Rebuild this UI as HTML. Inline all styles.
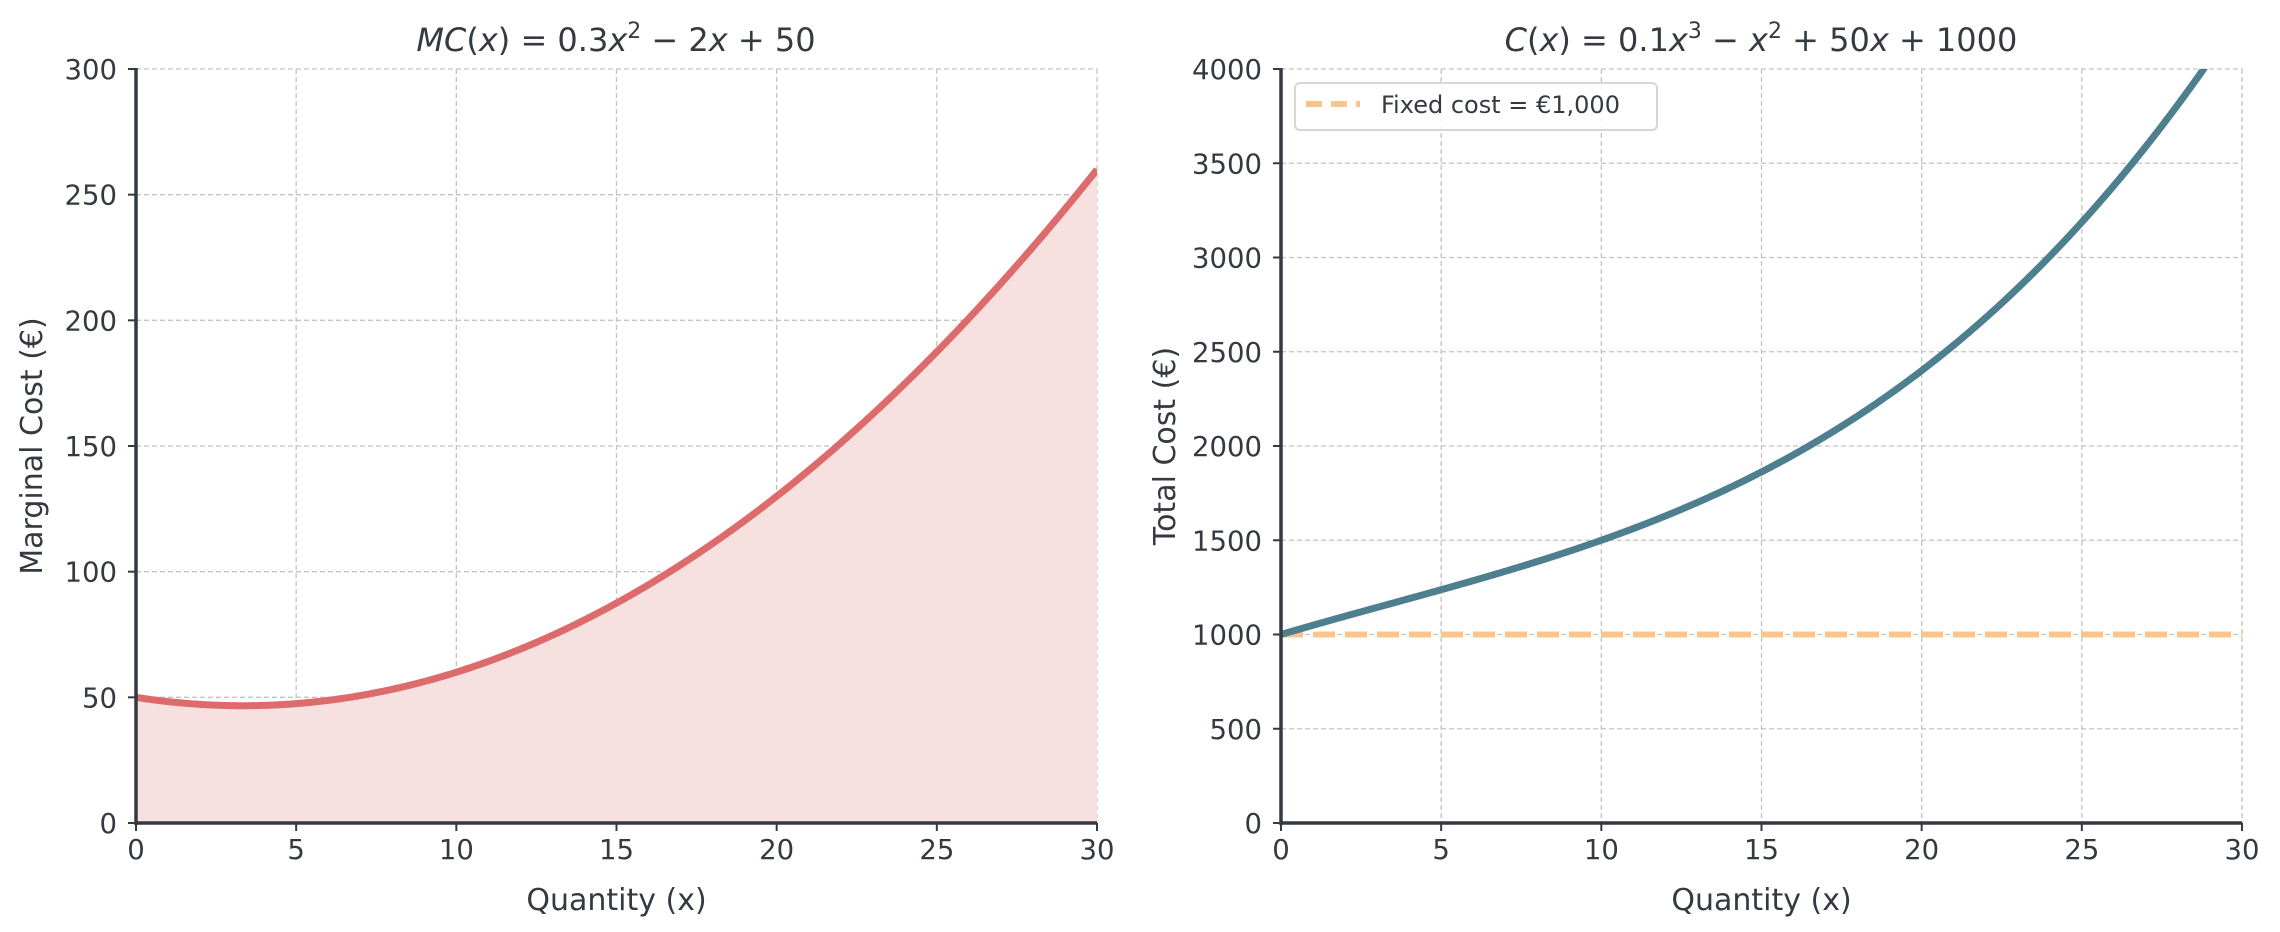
<!DOCTYPE html>
<html><head><meta charset="utf-8"><style>
html,body{margin:0;padding:0;background:#fff}
svg{display:block}
text{font-family:"DejaVu Sans","Liberation Sans",sans-serif;fill:#343a40}
</style></head><body>
<svg id="s" width="2280" height="932" xmlns="http://www.w3.org/2000/svg"></svg>
<script>
const s=document.getElementById('s');let h='';
const T=69,B=823,H=B-T;
function panel(L,R,ymax,ystep,f,col,fill,ylabel,ylx){
 const W=R-L;const X=x=>L+x/30*W, Y=y=>B-y/ymax*H;
 for(let x=5;x<=30;x+=5)h+=`<line x1="${X(x)}" y1="${T}" x2="${X(x)}" y2="${B}" stroke="#c4c4c4" stroke-width="1.3" stroke-dasharray="5,3"/>`;
 for(let y=ystep;y<=ymax;y+=ystep)h+=`<line x1="${L}" y1="${Y(y)}" x2="${R}" y2="${Y(y)}" stroke="#c4c4c4" stroke-width="1.3" stroke-dasharray="5,3"/>`;
 let pts=[];for(let i=0;i<=600;i++){const x=i/20;const y=f(x);if(y>ymax*1.02)break;pts.push([X(x),Y(y)]);}
 const d=pts.map((p,i)=>(i?'L':'M')+p[0].toFixed(2)+','+p[1].toFixed(2)).join('');
 h+=`<clipPath id="c${L}"><rect x="${L}" y="${T}" width="${W}" height="${H}"/></clipPath>`;
 if(fill)h+=`<path d="${d}L${X(30)},${B}L${L},${B}Z" fill="${fill}" clip-path="url(#c${L})"/>`;
 return {X,Y,d,L,R,W,draw(){
  h+=`<path d="${d}" fill="none" stroke="${col}" stroke-width="7" clip-path="url(#c${L})" stroke-linejoin="round"/>`;
  h+=`<line x1="${L}" y1="${T-1}" x2="${L}" y2="${B+2}" stroke="#343a40" stroke-width="3.5"/>`;
  h+=`<line x1="${L-1.5}" y1="${B}" x2="${R}" y2="${B}" stroke="#343a40" stroke-width="3.5"/>`;
  for(let x=0;x<=30;x+=5){h+=`<line x1="${X(x)}" y1="${B}" x2="${X(x)}" y2="${B+8}" stroke="#343a40" stroke-width="2"/>`;
   h+=`<text x="${X(x)}" y="${B+36}" font-size="27.5" text-anchor="middle">${x}</text>`;}
  for(let y=0;y<=ymax;y+=ystep){h+=`<line x1="${L-8}" y1="${Y(y)}" x2="${L}" y2="${Y(y)}" stroke="#343a40" stroke-width="2"/>`;
   h+=`<text x="${L-19}" y="${Y(y)+10}" font-size="27.5" text-anchor="end">${y}</text>`;}
  h+=`<text x="${L+W/2}" y="${910}" font-size="30" text-anchor="middle">Quantity (x)</text>`;
  h+=`<text transform="translate(${ylx},${T+H/2}) rotate(-90)" font-size="30" text-anchor="middle">${ylabel}</text>`;
 }};
}
const p1=panel(136,1097,300,50,x=>0.3*x*x-2*x+50,'#dd6b6b','#f6e0e0','Marginal Cost (€)',42);
p1.draw();
const p2=panel(1281,2242,4000,500,x=>0.1*x*x*x-x*x+50*x+1000,'#4e7f8f',null,'Total Cost (€)',1175);
h+=`<line x1="1281" y1="${p2.Y(1000)}" x2="2242" y2="${p2.Y(1000)}" stroke="#f8c58c" stroke-width="6" stroke-dasharray="22,10"/>`;
p2.draw();
h+=`<rect x="1295" y="83" width="362" height="47" rx="5" fill="#fff" fill-opacity="0.85" stroke="#d6d6d6" stroke-width="2"/>`;
h+=`<line x1="1306" y1="104" x2="1360" y2="104" stroke="#f8c58c" stroke-width="6" stroke-dasharray="16,9"/>`;
h+=`<text x="1381" y="113" font-size="24">Fixed cost = €1,000</text>`;
h+=`<text x="616" y="51" font-size="32" text-anchor="middle"><tspan font-style="italic">MC</tspan>(<tspan font-style="italic">x</tspan>) = 0.3<tspan font-style="italic">x</tspan><tspan font-size="22" dy="-13">2</tspan><tspan dy="13"> − 2</tspan><tspan font-style="italic">x</tspan> + 50</text>`;
h+=`<text x="1761" y="51" font-size="32" text-anchor="middle"><tspan font-style="italic">C</tspan>(<tspan font-style="italic">x</tspan>) = 0.1<tspan font-style="italic">x</tspan><tspan font-size="22" dy="-13">3</tspan><tspan dy="13"> − </tspan><tspan font-style="italic">x</tspan><tspan font-size="22" dy="-13">2</tspan><tspan dy="13"> + 50</tspan><tspan font-style="italic">x</tspan> + 1000</text>`;
s.innerHTML=h;
</script>
</body></html>
